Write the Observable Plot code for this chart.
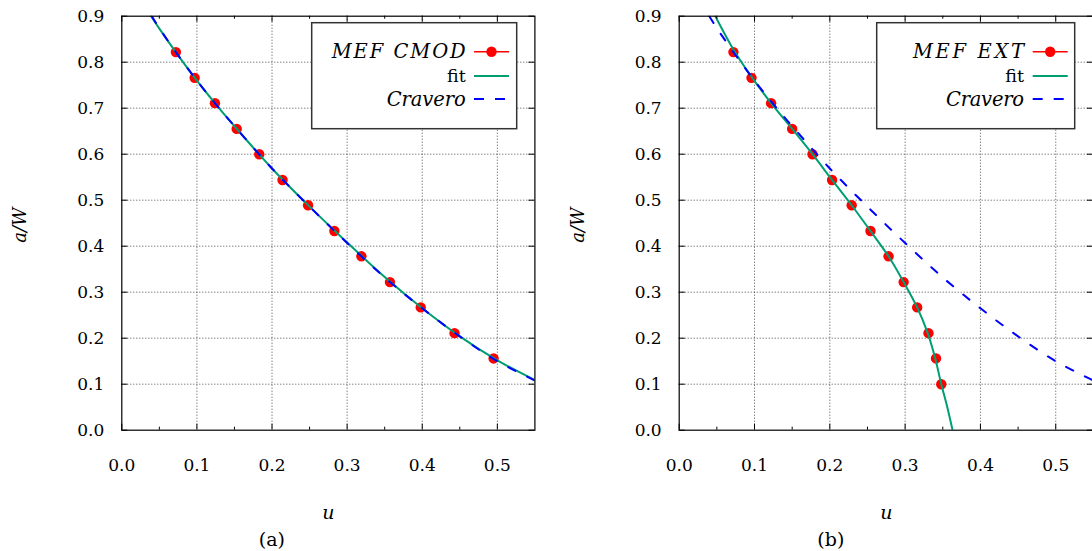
<!DOCTYPE html>
<html><head><meta charset="utf-8">
<script src="https://cdn.jsdelivr.net/npm/d3@7"></script>
<script src="https://cdn.jsdelivr.net/npm/@observablehq/plot@0.6"></script>
<style>
html,body{margin:0;padding:0;background:#fff;}
#wrap{position:relative;width:1092px;height:551px;overflow:hidden;background:#fff;}
#wrap svg{position:absolute;top:0;}
</style></head><body><div id="wrap"></div>
<script>
// ---- axes ----
const xTicks = [0.0, 0.1, 0.2, 0.3, 0.4, 0.5];
const xMinorTicks = [0.05, 0.15, 0.25, 0.35, 0.45];
const yTicks = [0.0, 0.1, 0.2, 0.3, 0.4, 0.5, 0.6, 0.7, 0.8, 0.9];
const gridXValues = [0.1, 0.2, 0.3, 0.4, 0.5];
const gridYValues = [0.1, 0.2, 0.3, 0.4, 0.5, 0.6, 0.7, 0.8];

// ---- panel (a): MEF CMOD ----
const cmodU = [0.072, 0.097, 0.124, 0.153, 0.183, 0.214, 0.248, 0.283, 0.319, 0.357, 0.398, 0.443, 0.495];
const cmodA = [0.822, 0.766, 0.711, 0.655, 0.600, 0.544, 0.489, 0.433, 0.378, 0.322, 0.267, 0.211, 0.156];
const fitAU = [0.039, 0.05, 0.075, 0.1, 0.125, 0.15, 0.2, 0.25, 0.3, 0.35, 0.4, 0.45, 0.5, 0.55];
const fitAA = [0.900, 0.873, 0.815, 0.760, 0.709, 0.661, 0.569, 0.486, 0.408, 0.333, 0.265, 0.204, 0.152, 0.109];

// ---- Cravero (both panels) ----
const cravU = [0.040, 0.05, 0.075, 0.1, 0.125, 0.15, 0.2, 0.25, 0.3, 0.35, 0.4, 0.45, 0.5, 0.55];
const cravA = [0.900, 0.874, 0.815, 0.760, 0.709, 0.661, 0.569, 0.486, 0.407, 0.332, 0.265, 0.204, 0.150, 0.108];

// ---- panel (b): MEF EXT ----
const extU = [0.072, 0.096, 0.122, 0.150, 0.177, 0.203, 0.229, 0.254, 0.278, 0.298, 0.316, 0.331, 0.341, 0.348];
const extA = [0.822, 0.766, 0.711, 0.655, 0.600, 0.544, 0.489, 0.433, 0.378, 0.322, 0.267, 0.211, 0.156, 0.100];
const fitBU = [0.048, 0.074, 0.097, 0.122, 0.150, 0.177, 0.203, 0.229, 0.254, 0.278, 0.298, 0.316, 0.330, 0.340, 0.348, 0.356, 0.363];
const fitBA = [0.900, 0.822, 0.766, 0.711, 0.655, 0.600, 0.544, 0.489, 0.433, 0.378, 0.322, 0.267, 0.211, 0.156, 0.100, 0.050, 0.000];

const zip = (us, as) => us.map((u, i) => ({u, a: as[i]}));
const serif = "DejaVu Serif, serif";

function panel(cfg) {
  const H = 551, mt = 15.7, mb = 121.3;
  const ph = H - mt - mb, pw = cfg.w - cfg.ml - cfg.mr;
  const fmt = d => d.toFixed(1);
  const tk = {stroke: "#000", strokeWidth: 1};
  return Plot.plot({
    width: cfg.w, height: H,
    marginLeft: cfg.ml, marginRight: cfg.mr, marginTop: mt, marginBottom: mb,
    x: {domain: [0, 0.55]},
    y: {domain: [0, 0.9]},
    style: {fontFamily: serif, fontSize: "17px", color: "#000", background: "#fff", overflow: "visible"},
    marks: [
      Plot.gridX(gridXValues, {stroke: "#000", strokeOpacity: 0.7, strokeDasharray: "1,2", strokeWidth: 1}),
      Plot.gridY(gridYValues, {stroke: "#000", strokeOpacity: 0.7, strokeDasharray: "1,2", strokeWidth: 1}),
      Plot.dot(cfg.pts, {x: "u", y: "a", r: 5.2, fill: "#ff0000", stroke: "none"}),
      Plot.line(cfg.fit, {x: "u", y: "a", stroke: "#009e73", strokeWidth: 2, curve: "catmull-rom", clip: true}),
      Plot.line(cfg.crav, {x: "u", y: "a", stroke: "#0000ff", strokeWidth: 2, strokeDasharray: "8,13", curve: "catmull-rom", clip: true}),
      Plot.ruleX(xTicks, {...tk, insetTop: ph - 6}),
      Plot.ruleX(xTicks, {...tk, insetBottom: ph - 6}),
      Plot.ruleX(xMinorTicks, {...tk, insetTop: ph - 3}),
      Plot.ruleX(xMinorTicks, {...tk, insetBottom: ph - 3}),
      Plot.ruleY(yTicks, {...tk, insetRight: pw - 6}),
      Plot.ruleY(yTicks, {...tk, insetLeft: pw - 6}),
      Plot.frame({stroke: "#000", strokeWidth: 1.2}),
      Plot.axisX(xTicks, {tickSize: 0, tickPadding: 28.5, tickFormat: fmt, label: null, fontSize: 17}),
      Plot.axisY(yTicks, {tickSize: 0, tickPadding: 17.5, tickFormat: fmt, label: null, fontSize: 17}),
      Plot.text(["a/W"], {frameAnchor: "left", dx: -101.3, dy: 2, rotate: -90, textAnchor: "middle", lineAnchor: "middle", fontStyle: "italic", fontSize: 18}),
      Plot.text(["u"], {frameAnchor: "bottom", dy: 83, textAnchor: "middle", lineAnchor: "middle", fontStyle: "italic", fontSize: 19}),
      Plot.text([cfg.tag], {frameAnchor: "bottom", dx: cfg.tagDx, dy: 110, textAnchor: "middle", lineAnchor: "middle", fontSize: 19})
    ]
  });
}

function addLegend(svg, L) {
  const g = d3.select(svg).append("g");
  g.append("rect").attr("x", L.x0).attr("y", 22.7).attr("width", L.x1 - L.x0).attr("height", 106)
    .attr("fill", "#fff").attr("stroke", "#333").attr("stroke-width", 1.5);
  const rows = [51.7, 76, 99];
  const base = [58.3, 81.7, 105.5];
  g.append("text").attr("x", L.te).attr("y", base[0]).attr("text-anchor", "end")
    .attr("font-family", serif).attr("font-style", "italic").attr("font-size", 19.5)
    .attr("textLength", L.len0).attr("lengthAdjust", "spacing").text(L.label);
  g.append("text").attr("x", L.te).attr("y", base[1]).attr("text-anchor", "end")
    .attr("font-family", serif).attr("font-size", 17.5).text("fit");
  g.append("text").attr("x", L.te).attr("y", base[2]).attr("text-anchor", "end")
    .attr("font-family", serif).attr("font-style", "italic").attr("font-size", 19.5)
    .attr("textLength", L.len2).attr("lengthAdjust", "spacing").text("Cravero");
  g.append("line").attr("x1", L.s0).attr("x2", L.s1).attr("y1", rows[0]).attr("y2", rows[0])
    .attr("stroke", "#ff0000").attr("stroke-width", 1.5);
  g.append("circle").attr("cx", (L.s0 + L.s1) / 2).attr("cy", rows[0]).attr("r", 5.2).attr("fill", "#ff0000");
  g.append("line").attr("x1", L.s0).attr("x2", L.s1).attr("y1", rows[1]).attr("y2", rows[1])
    .attr("stroke", "#009e73").attr("stroke-width", 2);
  g.append("line").attr("x1", L.s0).attr("x2", L.s1).attr("y1", rows[2]).attr("y2", rows[2])
    .attr("stroke", "#0000ff").attr("stroke-width", 2).attr("stroke-dasharray", "10,11");
}

const wrap = document.getElementById("wrap");

const svgA = panel({w: 546, ml: 121.3, mr: 11.6, pts: zip(cmodU, cmodA), fit: zip(fitAU, fitAA), crav: zip(cravU, cravA), tag: "(a)", tagDx: -56.4});
svgA.style.left = "0px";
wrap.appendChild(svgA);
addLegend(svgA, {x0: 311.7, x1: 516.7, te: 465.7, s0: 474, s1: 509, label: "MEF CMOD", len0: 134, len2: 79});

const svgB = panel({w: 548, ml: 132.7, mr: 1.1, pts: zip(extU, extA), fit: zip(fitBU, fitBA), crav: zip(cravU, cravA), tag: "(b)", tagDx: -55.5});
svgB.style.left = "546px";
wrap.appendChild(svgB);
addLegend(svgB, {x0: 330.7, x1: 528.7, te: 478, s0: 486.7, s1: 521.7, label: "MEF EXT", len0: 111, len2: 78});
</script>
</body></html>
